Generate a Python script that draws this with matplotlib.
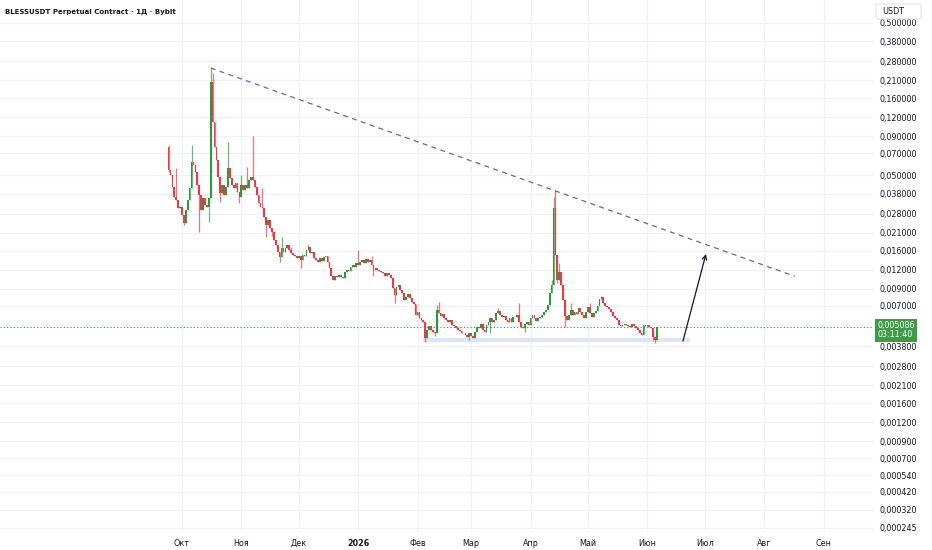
import numpy as np
import pandas as pd
import matplotlib
matplotlib.use("Agg")
import matplotlib.pyplot as plt
import matplotlib.dates as mdates
import matplotlib.transforms as mtransforms
from matplotlib.patches import Rectangle, FancyBboxPatch

## Data (daily candles, BLESSUSDT)
first_open = 0.0767
closes = [
    0.0542, 0.0503, 0.0419, 0.0361, 0.0345, 0.0305, 0.0310, 0.0275, 0.0244, 0.0296,
    0.0345, 0.0413, 0.0612, 0.0585, 0.0526, 0.0432, 0.0372, 0.0296, 0.0355, 0.0320,
    0.0310, 0.0355, 0.2047, 0.1119, 0.0767, 0.0630, 0.0488, 0.0383, 0.0432, 0.0372,
    0.0419, 0.0559, 0.0480, 0.0432, 0.0413, 0.0446, 0.0389, 0.0361, 0.0432, 0.0401,
    0.0432, 0.0413, 0.0466, 0.0488, 0.0466, 0.0419, 0.0372, 0.0329, 0.0310, 0.0305,
    0.0267, 0.0236, 0.0255, 0.0226, 0.0213, 0.0188, 0.0175, 0.0157, 0.0146, 0.0167,
    0.0157, 0.0167, 0.0175, 0.0162, 0.0155, 0.0150, 0.0148, 0.0144, 0.0148, 0.0139,
    0.0150, 0.0148, 0.0162, 0.0170, 0.0155, 0.0157, 0.0144, 0.0139, 0.0135, 0.0144,
    0.0137, 0.0146, 0.0148, 0.0135, 0.0123, 0.0109, 0.0103, 0.0109, 0.0108, 0.0111,
    0.0108, 0.0106, 0.0116, 0.0120, 0.0118, 0.0125, 0.0129, 0.0125, 0.0133, 0.0129,
    0.0135, 0.0139, 0.0133, 0.0141, 0.0135, 0.0139, 0.0129, 0.0120, 0.0123, 0.0120,
    0.0118, 0.0116, 0.0114, 0.0109, 0.0114, 0.0111, 0.0106, 0.00913, 0.00821, 0.00927,
    0.00955, 0.00886, 0.00847, 0.00761, 0.00797, 0.00834, 0.00785, 0.00739, 0.00717, 0.00607,
    0.00635, 0.00580, 0.00563, 0.00546, 0.00429, 0.00484, 0.00514, 0.00484, 0.00470, 0.00463,
    0.00655, 0.00626, 0.00598, 0.00617, 0.00580, 0.00563, 0.00546, 0.00563, 0.00522, 0.00515,
    0.00499, 0.00484, 0.00477, 0.00463, 0.00460, 0.00449, 0.00436, 0.00463, 0.00442, 0.00429,
    0.00470, 0.00507, 0.00499, 0.00530, 0.00484, 0.00470, 0.00522, 0.00546, 0.00580, 0.00546,
    0.00563, 0.00626, 0.00645, 0.00607, 0.00589, 0.00598, 0.00563, 0.00546, 0.00580, 0.00546,
    0.00589, 0.00585, 0.00607, 0.00546, 0.00507, 0.00499, 0.00530, 0.00546, 0.00522, 0.00580,
    0.00607, 0.00580, 0.00555, 0.00580, 0.00589, 0.00607, 0.00635, 0.00655, 0.00706, 0.00847,
    0.00955, 0.0305, 0.0150, 0.0103, 0.0116, 0.00955, 0.00761, 0.00598, 0.00563, 0.00607,
    0.00655, 0.00607, 0.00635, 0.00617, 0.00675, 0.00635, 0.00607, 0.00580, 0.00635, 0.00685,
    0.00626, 0.00589, 0.00626, 0.00645, 0.00696, 0.00773, 0.00797, 0.00728, 0.00696, 0.00685,
    0.00665, 0.00635, 0.00598, 0.00580, 0.00563, 0.00522, 0.00514, 0.00522, 0.00530, 0.00522,
    0.00514, 0.00507, 0.00530, 0.00514, 0.00499, 0.00484, 0.00463, 0.00449, 0.00522, 0.00514,
    0.00522, 0.00507, 0.00500, 0.00436, 0.00416, 0.005086,
]
# visible wick extremes (day index -> price)
highs = {0: 0.0791, 4: 0.0559, 12: 0.0791, 22: 0.253, 23: 0.2345, 31: 0.0827,
         38: 0.0503, 41: 0.0568, 44: 0.0906, 49: 0.0413, 59: 0.0196, 64: 0.0170,
         73: 0.0175, 99: 0.0162, 106: 0.0148, 140: 0.00706, 141: 0.00739,
         172: 0.00675, 183: 0.00728, 200: 0.0103, 201: 0.0361, 202: 0.0401,
         204: 0.0133, 210: 0.00728, 220: 0.00728, 226: 0.00810}
lows = {0: 0.0526, 8: 0.0236, 16: 0.0213, 21: 0.0247, 27: 0.0334, 37: 0.0329,
        51: 0.0196, 54: 0.0199, 58: 0.0135, 69: 0.0123, 107: 0.0109, 118: 0.00728,
        134: 0.00404, 139: 0.00442, 157: 0.00416, 168: 0.00463, 186: 0.00470,
        203: 0.00985, 207: 0.00507, 253: 0.00416, 254: 0.00398}
dates = pd.date_range("2025-09-24", periods=len(closes), freq="D")

price_ticks = [0.5, 0.38, 0.28, 0.21, 0.16, 0.12, 0.09, 0.07, 0.05, 0.038, 0.028,
               0.021, 0.016, 0.012, 0.009, 0.007, 0.0038, 0.0028, 0.0021, 0.0016,
               0.0012, 0.0009, 0.0007, 0.00054, 0.00042, 0.00032, 0.000245]
month_starts = pd.date_range("2025-10-01", "2026-09-01", freq="MS")
month_labels = ["Окт", "Ноя", "Дек", "2026", "Фев", "Мар", "Апр", "Май",
                "Июн", "Июл", "Авг", "Сен"]

last_price = 0.005086
countdown = "03:11:40"

trend_dates = ["2025-10-16", "2026-08-17"]
trend_prices = [0.253, 0.0109]
zone_dates = ["2026-02-04", "2026-06-23"]
zone_prices = [0.00404, 0.00432]
arrow_dates = ["2026-06-19 14:00", "2026-07-01 14:00"]
arrow_prices = [0.0041, 0.01525]

title = "BLESSUSDT Perpetual Contract · 1Д · Bybit"

## Styling
UP = "#2b9a3e"
DOWN = "#f23645"
GRID = "#eff1f4"
TXT = "#131722"

fig = plt.figure(figsize=(9.32, 5.5), dpi=100)
ax = fig.add_axes([0, 18 / 550, 873 / 932, 532 / 550])
ax.set_yscale("log")

x = mdates.date2num(dates)
opens = [first_open] + closes[:-1]
for i, (xi, o, c) in enumerate(zip(x, opens, closes)):
    col = UP if c >= o else DOWN
    lo_b, hi_b = min(o, c), max(o, c)
    hi = highs.get(i, hi_b)
    lo = lows.get(i, lo_b)
    ax.vlines(xi, lo, hi, color=col, lw=0.9, alpha=0.7, zorder=3)
    ax.bar(xi, hi_b - lo_b, bottom=lo_b, width=0.9, color=col, lw=0, zorder=3)

# trend line, support zone, projection arrow
ax.plot(mdates.date2num(pd.to_datetime(trend_dates)), trend_prices,
        color="#6a6d78", lw=0.9, ls=(0, (4, 3.5)), zorder=4)
zx = mdates.date2num(pd.to_datetime(zone_dates))
ax.add_patch(Rectangle((zx[0], zone_prices[0]), zx[1] - zx[0],
                       zone_prices[1] - zone_prices[0],
                       facecolor="#dde5fb", edgecolor="none", zorder=2))
ax_d = mdates.date2num(pd.to_datetime(arrow_dates))
ax.annotate("", xy=(ax_d[1], arrow_prices[1]), xytext=(ax_d[0], arrow_prices[0]),
            arrowprops=dict(arrowstyle="->", color="#131722", lw=0.9,
                            mutation_scale=8, shrinkA=0, shrinkB=0), zorder=5)

# current price line
ax.axhline(last_price, color=UP, lw=0.8, ls=(0, (1, 2)), zorder=2)

# axes
d0 = x[0]
ax.set_xlim(d0 - 88.0, d0 + 367.8)
ax.set_ylim(0.0002293, 0.7063)
ax.yaxis.tick_right()
ax.set_yticks(price_ticks)
ax.set_yticklabels([f"{p:.6f}".replace(".", ",") for p in price_ticks])
ax.yaxis.set_minor_locator(matplotlib.ticker.NullLocator())
ax.set_xticks(mdates.date2num(month_starts))
ax.set_xticklabels(month_labels)
for lbl in ax.get_xticklabels():
    if lbl.get_text() == "2026":
        lbl.set_fontweight("bold")
ax.tick_params(axis="y", length=0, pad=5, labelsize=5.8, labelcolor=TXT)
ax.tick_params(axis="x", length=0, pad=5, labelsize=5.8, labelcolor=TXT)
ax.grid(True, color=GRID, lw=0.9, zorder=0)
ax.set_axisbelow(True)
for s in ax.spines.values():
    s.set_visible(False)

# last price label on the scale
trans = mtransforms.blended_transform_factory(ax.transAxes, ax.transData)
ax.annotate(f"{last_price:.6f}".replace(".", ",") + "\n" + countdown,
            xy=(1.0, last_price), xycoords=trans, xytext=(3.0, -2.5),
            textcoords="offset points", ha="left", va="center", fontsize=5.8,
            color="white", linespacing=1.05, annotation_clip=False,
            bbox=dict(boxstyle="square,pad=0.3", fc="#3d9a46", ec="none"), zorder=10)

# currency tag at top of the scale
fig.add_artist(FancyBboxPatch((876 / 932, 1 - 19 / 550), 45 / 932, 15 / 550,
                              boxstyle="round,pad=0,rounding_size=0.003",
                              transform=fig.transFigure, fc="white", ec="#e0e3eb",
                              lw=0.8, zorder=10))
fig.text(882 / 932, 1 - 11.5 / 550, "USDT", fontsize=5.8, color=TXT, ha="left",
         va="center", zorder=11)

fig.text(5 / 932, 1 - 12 / 550, title, fontsize=5.0, fontweight="bold", color=TXT,
         ha="left", va="center")

fig.savefig("out.png", dpi=100)
